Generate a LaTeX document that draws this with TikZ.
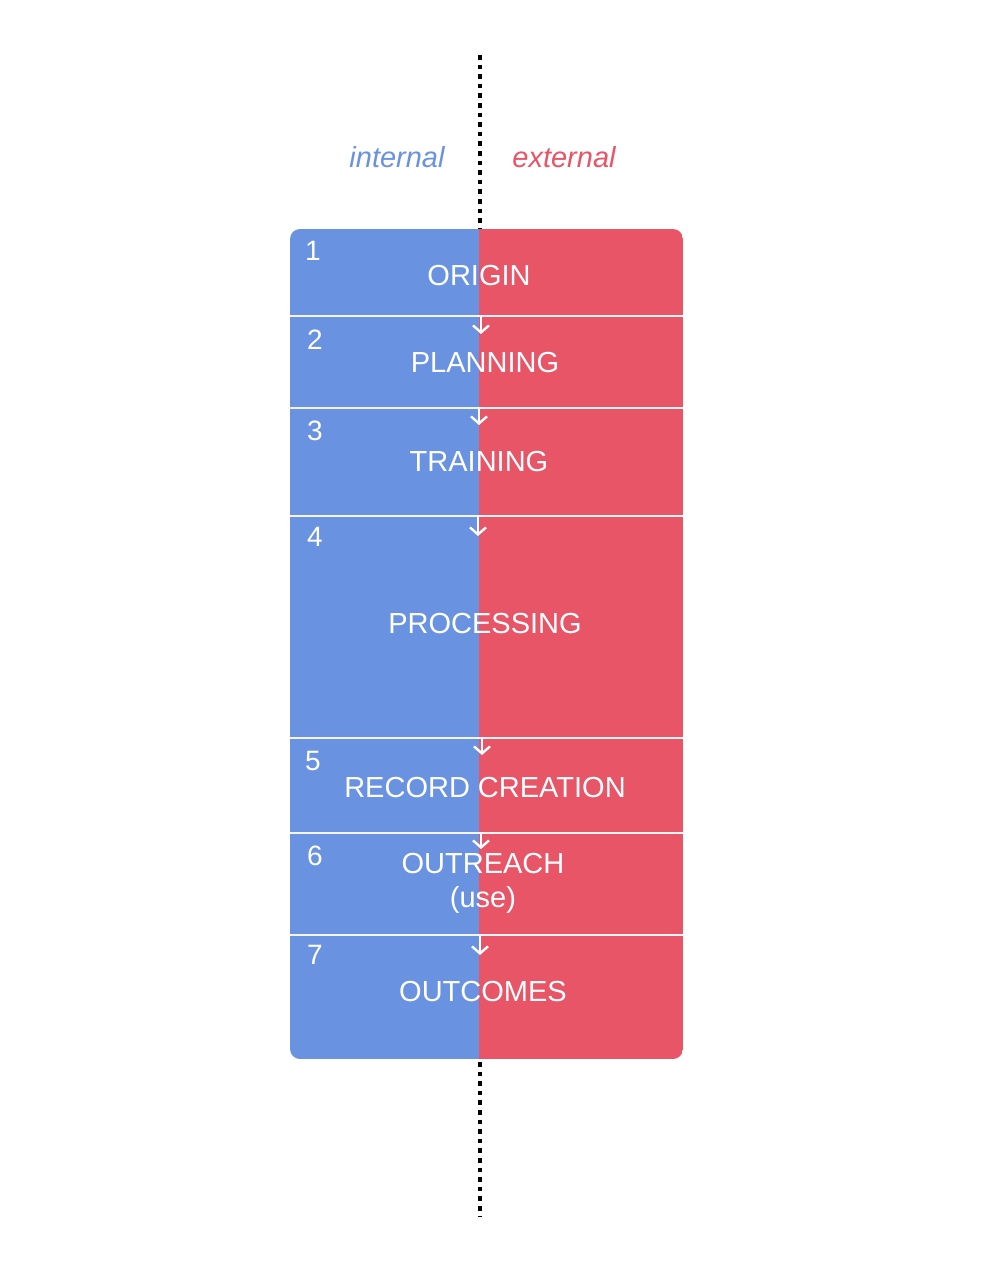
\documentclass[tikz,border=0pt]{standalone}
\usepackage{fontspec}
\setmainfont{Liberation Sans}
\usetikzlibrary{arrows.meta}
\definecolor{intblue}{HTML}{6992E0}
\definecolor{extred}{HTML}{E75567}
\tikzset{
  stagetxt/.style={text=white,font=\fontsize{29}{34}\selectfont,inner sep=0pt},
  numtxt/.style={text=white,font=\fontsize{28}{32}\selectfont,inner sep=0pt},
  sidetxt/.style={font=\fontsize{29}{34}\selectfont\itshape,inner sep=0pt},
  divline/.style={draw=white!92!gray,line width=1.4pt},
  flowarrow/.style={draw=white,line width=2.4pt,-{Straight Barb[length=7pt,width=16pt,line width=2.4pt]}},
  splitline/.style={draw=black,line width=4.6pt,dash pattern=on 4.6pt off 5pt}
}
\begin{document}
\begin{tikzpicture}[x=1pt,y=-1pt]
\useasboundingbox (0,0) rectangle (981,1270);
\fill[white] (0,0) rectangle (981,1270);
% dotted split line
\coordinate (topA) at (480,55);
\coordinate (topB) at (480,229);
\coordinate (botA) at (480,1062);
\coordinate (botB) at (480,1217);
\draw[splitline] (topA) -- (topB);
\draw[splitline] (botA) -- (botB);
% labels
\node[sidetxt,text=intblue] (internal) at (397,157) {internal};
\node[sidetxt,text=extred] (external) at (564,157) {external};
% box
\begin{scope}
\clip[rounded corners=10pt] (290,229) rectangle (683,1059);
\fill[intblue] (290,229) rectangle (479,1059);
\fill[extred] (479,229) rectangle (683,1059);
\end{scope}
% dividers
\foreach \y in {316,408,516,738,833,935}{
  \draw[divline] (290,\y) -- (683,\y);
}
% stage texts
\node[stagetxt] (s1) at (479,276) {ORIGIN};
\node[stagetxt] (s2) at (485,363) {PLANNING};
\node[stagetxt] (s3) at (479,462) {TRAINING};
\node[stagetxt] (s4) at (485,624) {PROCESSING};
\node[stagetxt] (s5) at (485,788) {RECORD CREATION};
\node[stagetxt] (s6) at (483,864) {OUTREACH};
\node[stagetxt] (s6b) at (483,900) {(use)};
\node[stagetxt] (s7) at (483,992) {OUTCOMES};
% numbers
\node[numtxt] (n1) at (313,251) {1};
\node[numtxt] (n2) at (315,340) {2};
\node[numtxt] (n3) at (315,431) {3};
\node[numtxt] (n4) at (315,537) {4};
\node[numtxt] (n5) at (313,761) {5};
\node[numtxt] (n6) at (315,856) {6};
\node[numtxt] (n7) at (315,955) {7};
% arrows
\coordinate (a1s) at (481,317); \coordinate (a1e) at (481,334);
\coordinate (a2s) at (479,409); \coordinate (a2e) at (479,425);
\coordinate (a3s) at (478,517); \coordinate (a3e) at (478,536);
\coordinate (a4s) at (482,739); \coordinate (a4e) at (482,755);
\coordinate (a5s) at (481,834); \coordinate (a5e) at (481,849);
\coordinate (a6s) at (480,936); \coordinate (a6e) at (480,955);
\foreach \i in {1,...,6}{
  \draw[flowarrow] (a\i s) -- (a\i e);
}
\end{tikzpicture}
\end{document}
